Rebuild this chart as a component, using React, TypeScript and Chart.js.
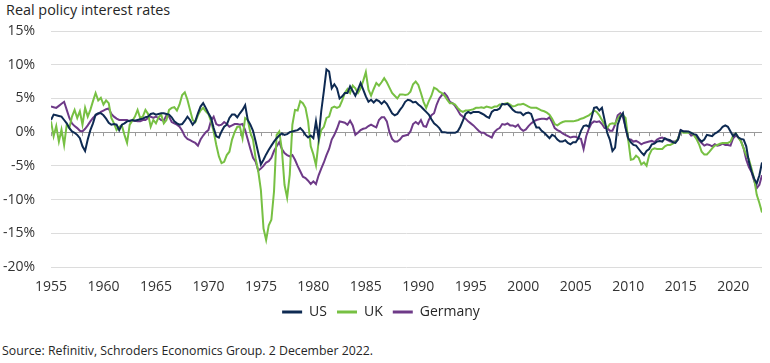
import React, { useEffect, useRef } from "react";
import { Chart, registerables } from "chart.js";

Chart.register(...registerables);

// ---- data (quarterly, starting Q1 1955) ----
const START_YEAR = 1955;
const PERIODS_PER_YEAR = 4;
const X_MIN = 1955;
const X_MAX = 2022.75;
const Y_MIN = -20;
const Y_MAX = 15;
const Y_STEP = 5;
const xTickYears = [1955, 1960, 1965, 1970, 1975, 1980, 1985, 1990, 1995, 2000, 2005, 2010, 2015, 2020];
const seriesNames = ["US", "UK", "Germany"];
const seriesColors = ["#0e2a52", "#77c043", "#6e3a88"];

const usReal = [
  1.8, 2.6, 2.5, 2.4, 2.3, 1.8, 1.3, 0.6, 0.1, -0.1, -0.4, -0.9, -2.1, -2.8, -1.1, 0.3,
  1.3, 2.6, 2.8, 2.8, 2.5, 2.0, 1.4, 1.1, 1.2, 1.1, 0.3, 1.1, 1.3, 1.6, 1.7, 1.8,
  1.7, 1.8, 1.9, 2.0, 2.2, 2.3, 2.7, 2.8, 2.6, 2.7, 2.8, 2.8, 2.7, 2.6, 2.2, 1.6,
  1.3, 1.1, 1.2, 1.7, 2.3, 1.8, 1.1, 1.6, 2.8, 3.8, 4.3, 3.6, 2.8, 2.1, 0.6, -0.6,
  -0.8, 0.1, 0.8, 1.1, 2.1, 2.6, 2.6, 2.2, 2.8, 3.3, 4.0, 1.8, 1.1, 0.2, -1.4, -3.1,
  -4.8, -4.1, -3.3, -2.6, -2.0, -1.4, -0.9, -0.5, -0.2, -0.4, -0.3, 0.0, 0.1, 0.2, 0.3, 0.6,
  0.2, -0.4, -0.8, -0.5, -0.9, 1.6, -0.9, 3.1, 6.1, 9.3, 9.0, 6.5, 7.1, 6.5, 5.0, 5.3,
  5.8, 5.8, 6.8, 6.1, 5.4, 6.3, 7.3, 6.3, 5.3, 4.5, 4.8, 4.4, 4.8, 4.6, 4.2, 4.6,
  4.2, 3.5, 2.8, 2.5, 2.7, 3.3, 3.8, 4.5, 4.8, 4.7, 4.4, 4.5, 4.1, 3.8, 3.4, 3.0,
  2.6, 1.9, 1.3, 1.0, 0.6, 0.0, 0.0, -0.1, -0.1, -0.1, -0.1, 0.1, 0.8, 1.7, 2.7, 3.0,
  2.8, 3.0, 3.0, 3.0, 2.8, 2.6, 2.3, 2.1, 3.0, 3.3, 3.3, 3.5, 4.2, 4.1, 4.2, 3.8,
  3.3, 3.0, 2.9, 2.9, 2.5, 2.8, 2.9, 2.7, 1.6, 0.7, 0.7, 0.2, -0.1, -0.5, -0.9, -0.4,
  -0.6, -1.1, -1.4, -1.4, -1.2, -1.6, -1.8, -1.5, -1.5, -0.9, 0.2, 0.9, 1.0, 0.8, 2.1, 3.6,
  3.7, 3.2, 3.6, 1.8, -0.1, -1.1, -2.8, -2.3, 1.1, 2.2, 2.8, 0.6, -0.9, -1.5, -1.9, -2.0,
  -2.5, -3.0, -3.4, -2.8, -2.5, -1.8, -1.7, -1.4, -1.3, -1.4, -0.9, -1.1, -1.2, -1.5, -1.6, -1.1,
  0.3, 0.1, 0.1, 0.1, -0.1, -0.3, -0.4, -1.0, -1.4, -1.1, -0.4, -0.5, -0.6, -0.2, 0.0, 0.3,
  0.8, 1.0, 0.8, 0.1, -0.6, -0.2, -0.8, -1.0, -1.1, -2.1, -4.4, -5.8, -6.9, -7.6, -6.4, -4.5,
];

const ukReal = [
  1.6, -0.6, 0.9, -1.4, 0.4, -1.9, 1.1, 0.6, 2.3, 3.3, 2.1, 3.1, 1.1, 3.6, 2.3, 3.3,
  4.6, 5.8, 4.7, 5.1, 4.1, 4.7, 4.3, 2.1, 1.3, 0.3, 0.8, 1.0, -0.4, -1.6, 1.1, 1.7,
  2.3, 3.3, 2.1, 2.3, 3.3, 2.7, 0.8, 1.8, 1.3, 2.2, 2.6, 1.3, 1.8, 3.3, 3.6, 3.7,
  3.2, 4.1, 5.5, 5.9, 4.8, 3.3, 1.8, 1.5, 2.5, 3.2, 3.6, 3.1, 2.7, 1.6, 0.1, -1.9,
  -3.6, -4.6, -4.4, -3.4, -2.9, -1.1, 0.0, 0.8, 0.8, -0.9, 2.1, 1.8, -0.1, -1.1, -3.9, -5.8,
  -8.6, -14.3, -16.0, -13.8, -13.0, -8.8, -0.4, 0.1, -2.6, -7.8, -9.7, -6.3, 1.1, 3.3, 3.2, 4.6,
  4.3, 3.6, 1.6, -2.1, -3.3, -4.9, -1.4, 0.3, 0.8, 2.1, 2.3, 3.6, 3.8, 3.6, 3.8, 4.7,
  5.8, 6.4, 5.8, 6.9, 6.5, 5.8, 6.5, 7.6, 8.9, 6.3, 5.4, 6.4, 7.3, 6.9, 7.4, 8.0,
  7.4, 6.6, 5.8, 5.4, 5.0, 5.6, 5.6, 5.5, 5.6, 6.0, 7.1, 7.5, 7.0, 5.8, 4.5, 3.6,
  4.6, 5.4, 6.6, 6.4, 6.0, 5.8, 5.4, 4.8, 4.3, 4.3, 4.1, 3.6, 3.2, 3.0, 3.2, 3.2,
  3.3, 3.4, 3.6, 3.6, 3.7, 3.6, 3.8, 3.7, 3.6, 3.8, 3.8, 4.1, 4.1, 4.2, 4.3, 4.1,
  3.8, 3.9, 4.1, 4.1, 4.2, 4.0, 3.8, 3.6, 3.6, 3.6, 3.4, 3.2, 3.1, 2.9, 2.6, 2.0,
  1.2, 1.0, 1.3, 1.5, 1.6, 1.6, 1.6, 1.6, 1.7, 1.8, 2.0, 2.1, 2.3, 2.5, 2.8, 3.2,
  3.0, 2.5, 1.8, 1.1, 0.6, 1.2, 1.3, 1.2, 2.0, 2.5, 2.5, 2.1, -1.1, -4.1, -4.0, -3.5,
  -3.8, -4.8, -4.5, -5.0, -3.4, -2.6, -2.4, -2.5, -2.5, -2.5, -2.1, -1.9, -1.9, -1.7, -1.4, -1.0,
  0.2, -0.1, -0.1, -0.1, -0.1, -0.4, -1.0, -1.8, -2.9, -3.3, -3.3, -2.9, -2.4, -2.0, -1.9, -1.7,
  -1.6, -1.6, -1.6, -1.4, -0.5, -0.2, -0.8, -1.4, -2.4, -3.4, -4.0, -5.4, -6.9, -9.3, -10.5, -11.9,
];

const germanyReal = [
  3.8, 3.7, 3.6, 3.9, 4.2, 4.5, 3.3, 2.1, 1.3, 0.9, 0.6, 0.2, 0.1, 0.5, 1.0, 1.6,
  2.1, 2.5, 2.7, 3.0, 3.2, 3.4, 3.5, 2.7, 2.3, 2.0, 1.8, 1.8, 1.8, 1.8, 1.6, 1.7,
  1.7, 1.6, 1.6, 1.8, 1.8, 2.1, 2.3, 2.1, 2.3, 2.1, 1.8, 1.7, 2.5, 2.3, 1.5, 1.3,
  1.1, 0.8, 0.2, -0.6, -1.0, -1.2, -1.4, -1.6, -2.0, -1.1, -0.5, 0.0, 0.3, 1.7, 2.3, 1.2,
  1.0, 1.1, 1.5, 1.2, 0.8, 1.0, 1.2, 1.2, 1.1, 1.2, 0.3, -1.1, -2.5, -3.8, -4.4, -5.7,
  -5.4, -5.0, -4.5, -4.3, -3.8, -2.8, -2.1, -1.5, -2.5, -3.1, -3.4, -3.6, -3.4, -4.1, -5.0, -5.8,
  -6.6, -6.8, -7.2, -7.7, -7.3, -7.7, -6.4, -5.4, -4.5, -3.4, -2.5, -1.1, -0.4, 0.5, 1.6, 1.5,
  1.4, 1.1, 1.7, 1.0, -0.4, -0.1, 0.3, 0.5, 0.6, 0.9, 1.1, 0.9, 0.7, 1.8, 2.2, 2.2,
  1.6, 0.0, -1.0, -1.4, -1.4, -1.1, -0.6, -0.5, -0.4, 0.1, 1.2, 1.5, 1.2, 1.8, 0.9, 0.8,
  1.8, 2.5, 2.8, 4.1, 5.0, 5.5, 5.8, 5.3, 4.5, 4.3, 3.9, 3.3, 2.6, 2.3, 2.0, 1.6,
  1.3, 1.0, 0.6, 0.2, -0.1, -0.1, -0.4, -0.6, -0.8, 0.0, 0.4, 0.6, 1.2, 1.1, 1.3, 1.0,
  1.0, 0.8, 1.1, 0.5, 0.2, 0.4, 0.9, 1.3, 1.6, 1.8, 1.9, 2.0, 2.0, 1.9, 2.2, 1.5,
  0.6, 0.3, 0.1, -0.2, -0.4, -0.6, -0.8, -0.7, -0.7, -0.9, -1.0, -2.5, -0.6, 0.5, 1.3, 1.6,
  1.5, 1.6, 1.2, 0.6, 0.6, 0.2, 0.2, 1.1, 2.5, 2.8, 2.2, 0.8, -1.1, -1.1, -1.4, -1.3,
  -1.5, -1.8, -1.6, -1.5, -1.4, -1.3, -1.5, -1.1, -0.9, -0.8, -1.0, -1.2, -1.4, -1.4, -1.4, -1.0,
  0.3, 0.1, 0.1, 0.0, -0.5, -0.4, -0.8, -1.2, -1.6, -2.0, -1.8, -1.9, -2.1, -1.8, -2.0, -1.9,
  -1.7, -1.9, -1.9, -2.0, -0.9, -0.5, -0.8, -1.3, -2.4, -4.1, -5.2, -5.9, -7.2, -8.3, -7.8, -6.4,
];

const seriesValues = [usReal, ukReal, germanyReal];

const TITLE = "Real policy interest rates";
const SOURCE = "Source: Refinitiv, Schroders Economics Group. 2 December 2022.";

const FONT = "'Open Sans', 'Noto Sans', sans-serif";

const zeroLineTicks = {
  id: "zeroLineTicks",
  beforeDatasetsDraw(chart: any) {
    const xs = chart.scales.x;
    const ys = chart.scales.y;
    const y0 = ys.getPixelForValue(0);
    const ctx = chart.ctx;
    ctx.save();
    ctx.strokeStyle = "#9a9a9a";
    ctx.lineWidth = 1;
    ctx.beginPath();
    for (let yr = Math.ceil(xs.min); yr <= xs.max; yr++) {
      const px = Math.round(xs.getPixelForValue(yr)) + 0.5;
      ctx.moveTo(px, y0);
      ctx.lineTo(px, y0 + 4);
    }
    ctx.stroke();
    ctx.restore();
  },
};

export default function App() {
  const canvasRef = useRef<HTMLCanvasElement | null>(null);

  useEffect(() => {
    if (!canvasRef.current) return;
    const datasets = seriesNames.map((name, s) => ({
      label: name,
      data: seriesValues[s].map((v, i) => ({ x: START_YEAR + i / PERIODS_PER_YEAR, y: v })),
      borderColor: seriesColors[s],
      backgroundColor: seriesColors[s],
      borderWidth: 2,
      pointRadius: 0,
      tension: 0,
      fill: false,
    }));

    const chart = new Chart(canvasRef.current, {
      type: "line",
      data: { datasets },
      plugins: [zeroLineTicks],
      options: {
        animation: false,
        responsive: false,
        devicePixelRatio: 1,
        layout: { padding: { top: 31, right: 8, left: 0, bottom: 0 } },
        plugins: {
          tooltip: { enabled: false },
          legend: {
            position: "bottom",
            labels: {
              usePointStyle: true,
              pointStyle: "line",
              pointStyleWidth: 20,
              boxHeight: 14,
              padding: 10,
              color: "#262626",
              font: { family: FONT, size: 14 },
              generateLabels: (c: any) => {
                const items = Chart.defaults.plugins.legend.labels.generateLabels(c);
                return items.map((it: any) => ({ ...it, lineWidth: 3, pointStyle: "line" }));
              },
            },
          },
        },
        scales: {
          x: {
            type: "linear",
            min: X_MIN,
            max: X_MAX,
            afterBuildTicks: (scale: any) => {
              scale.ticks = xTickYears.map((v) => ({ value: v }));
            },
            afterFit: (scale: any) => {
              scale.height = 28;
            },
            ticks: {
              autoSkip: false,
              maxRotation: 0,
              padding: 12,
              color: "#333333",
              font: { family: FONT, size: 14 },
              callback: (v: any) => String(v),
            },
            grid: { display: false, drawTicks: false },
            border: { display: false },
          },
          y: {
            type: "linear",
            min: Y_MIN,
            max: Y_MAX,
            afterFit: (scale: any) => {
              scale.width = 51;
            },
            ticks: {
              stepSize: Y_STEP,
              padding: 16,
              color: "#333333",
              font: { family: FONT, size: 14 },
              callback: (v: any) => `${v}%`,
            },
            grid: {
              drawTicks: false,
              lineWidth: 1,
              color: (ctx: any) => (ctx.tick && ctx.tick.value === 0 ? "#9a9a9a" : "#dcdcdc"),
            },
            border: { display: false },
          },
        },
      },
    } as any);

    return () => chart.destroy();
  }, []);

  return (
    <div style={{ position: "absolute", left: 0, top: 0, width: 770, height: 363, background: "#ffffff", overflow: "hidden" }}>
      <div
        style={{
          position: "absolute",
          left: 6,
          top: 0,
          fontFamily: FONT,
          fontSize: 14.4,
          lineHeight: "20px",
          color: "#262626",
          whiteSpace: "nowrap",
        }}
      >
        {TITLE}
      </div>
      <canvas
        ref={canvasRef}
        width={770}
        height={329}
        style={{ position: "absolute", left: 0, top: 0, width: 770, height: 329 }}
      />
      <div
        style={{
          position: "absolute",
          left: 2,
          top: 342,
          fontFamily: FONT,
          fontSize: 12.3,
          lineHeight: "17px",
          color: "#262626",
          whiteSpace: "nowrap",
        }}
      >
        {SOURCE}
      </div>
    </div>
  );
}
